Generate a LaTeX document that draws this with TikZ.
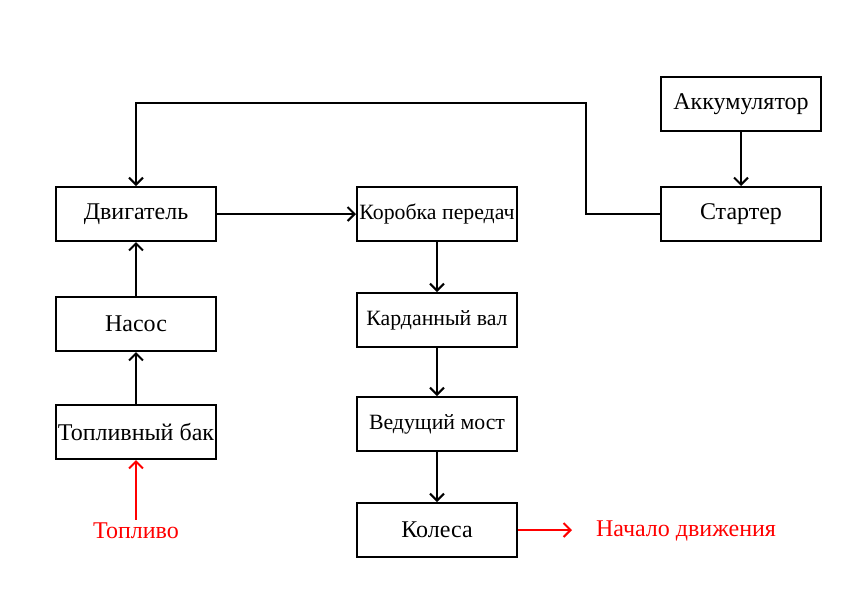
\documentclass[tikz,border=0pt]{standalone}
\usepackage{fontspec}
\setmainfont{Liberation Serif}
\usetikzlibrary{arrows.meta,positioning}

\begin{document}
\begin{tikzpicture}[x=1pt,y=-1pt,>={Straight Barb[length=7pt,width=14pt]},
  blok/.style={draw,line width=2pt,minimum width=160pt,minimum height=54pt,inner sep=0pt,font=\fontsize{24}{28}\selectfont},
  uzkij/.style={blok,font=\fontsize{21.8}{26}\selectfont},
  svyaz/.style={->,line width=2pt},
  vneshn/.style={text=red,font=\fontsize{24}{28}\selectfont}]
\useasboundingbox (0,0) rectangle (851,598);
% левая ветка: топливо
\node[blok] (dvig) at (136,214) {Двигатель};
\node[blok] (nasos) at (136,324) {Насос};
\node[blok] (bak) at (136,432) {Топливный бак};
\node[vneshn] (toplivo) at (136,531) {Топливо};
% трансмиссия
\node[uzkij] (kpp) at (437,214) {Коробка передач};
\node[uzkij] (kardan) at (437,320) {Карданный вал};
\node[uzkij] (most) at (437,424) {Ведущий мост};
\node[blok] (kolesa) at (437,530) {Колеса};
\node[vneshn] (dvizh) at (686,531) {Начало движения};
% пуск
\node[blok] (akk) at (741,104) {Аккумулятор};
\node[blok] (start) at (741,214) {Стартер};
\coordinate (vverh) at (586,103);

\draw[svyaz,red] (toplivo.north) -- (bak);
\draw[svyaz] (bak) -- (nasos);
\draw[svyaz] (nasos) -- (dvig);
\draw[svyaz] (dvig) -- (kpp);
\draw[svyaz] (kpp) -- (kardan);
\draw[svyaz] (kardan) -- (most);
\draw[svyaz] (most) -- (kolesa);
\draw[svyaz,red] (kolesa) -- (572,530);
\draw[svyaz] (akk) -- (start);
\draw[svyaz] (start.west) -| (vverh) -| (dvig.north);
\end{tikzpicture}
\end{document}
